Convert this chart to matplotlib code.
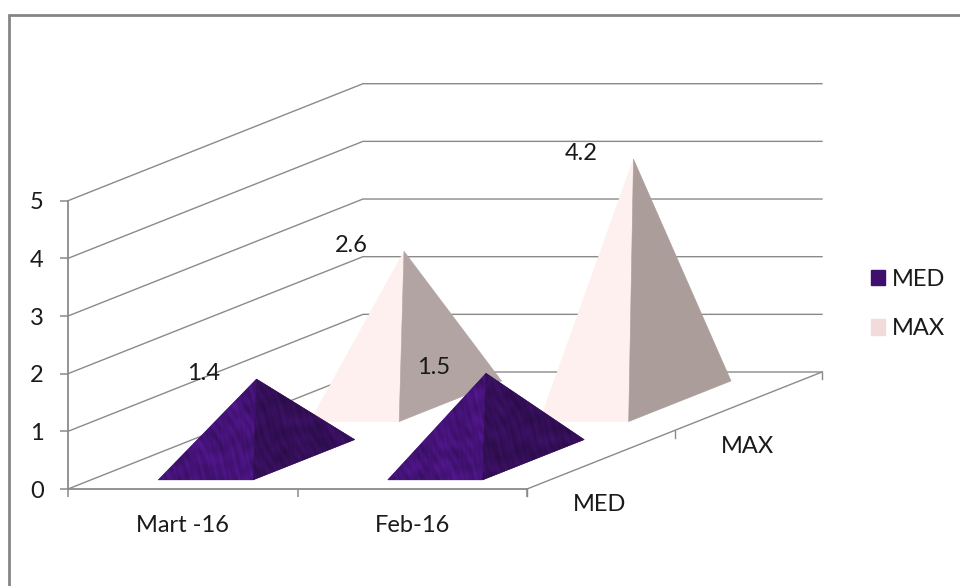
import numpy as np
import matplotlib
matplotlib.use("Agg")
import matplotlib.pyplot as plt
from matplotlib.lines import Line2D
from matplotlib.patches import Patch, Polygon

plt.rcParams['font.family'] = ['Lato', 'DejaVu Sans']

categories = ['Mart -16', 'Feb-16']
series_names = ['MED', 'MAX']
med_values = [1.4, 1.5]
max_values = [2.6, 4.2]
value_ticks = [0, 1, 2, 3, 4, 5]

GREY = '#8a8a8a'
TEXT = '#1a1a1a'
FONT = 17

fig = plt.figure(figsize=(9.6, 5.86), dpi=100, facecolor='white')

# outer chart frame runs off the right and bottom of the figure
fig.add_artist(Line2D([9 / 960, 9 / 960, 1], [0, 1 - 15 / 586, 1 - 15 / 586],
                      color='#858585', lw=2.0, solid_joinstyle='miter'))

# the axes rectangle is the front face of the 3d box
ax = fig.add_axes([68 / 960, (586 - 489) / 586, 459 / 960, 288.3 / 586])
ax.patch.set_alpha(0)

# one depth step, in category and value units
DEPTH_X = 147.5 / 229.5
DEPTH_Y = 58.5 / 57.66


def oblique(cat, depth, value):
    return cat + depth * DEPTH_X, value + depth * DEPTH_Y


def streaks(shape, seed):
    # mottled fabric shading, steep slanted waves at a few scales
    yy, xx = np.mgrid[0:shape[0], 0:shape[1]]
    out = np.zeros(shape)
    for k, (angle, freq, amp) in enumerate([(0.35, 0.91, 1.0), (0.55, 0.57, 0.9),
                                            (0.15, 1.43, 0.6), (1.1, 0.23, 0.8),
                                            (2.0, 0.37, 0.7), (0.75, 0.13, 0.9)]):
        u = xx * np.cos(angle) + yy * np.sin(angle)
        v = -xx * np.sin(angle) + yy * np.cos(angle)
        out += amp * np.sin(freq * u + 1.7 * np.sin(v * 0.09 + k + seed) + seed * (k + 1.3))
    return out / 3.0


def textured_face(pts, colour, seed):
    pts = np.array(pts)
    face = Polygon(pts, closed=True, transform=ax.transData, fc=colour, ec=colour,
                   lw=0.4, clip_on=False, zorder=3 + seed * 0.01)
    ax.add_patch(face)
    x0, x1 = pts[:, 0].min(), pts[:, 0].max()
    y0, y1 = pts[:, 1].min(), pts[:, 1].max()
    w = int((x1 - x0) * 229.5) + 2
    h = int((y1 - y0) * 57.66) + 2
    shade = streaks((h, w), seed)[..., None]
    rgb = np.clip(np.array(matplotlib.colors.to_rgb(colour)) * (1 + 0.16 * shade), 0, 1)
    im = ax.imshow(rgb, extent=(x0, x1, y0, y1), aspect='auto', origin='lower',
                   interpolation='bilinear', zorder=3 + seed * 0.01 + 0.001)
    im.set_clip_box(fig.bbox)
    im.set_clip_path(face)


def pyramid(cat, depth, value, half_w, half_d, shift, left_c, right_c, textured, order):
    # shift moves the base a little off the tip, the chart has slight perspective
    front_left = oblique(cat + shift - half_w, depth - half_d, 0)
    front_right = oblique(cat + shift + half_w, depth - half_d, 0)
    back_right = oblique(cat + shift + half_w, depth + half_d, 0)
    apex = oblique(cat, depth, value)
    if textured:
        textured_face([front_left, front_right, apex], left_c, order)
        textured_face([front_right, back_right, apex], right_c, order + 1)
    else:
        ax.add_patch(Polygon([front_left, front_right, apex], closed=True, fc=left_c,
                             ec=left_c, lw=0.4, clip_on=False, zorder=3 + order * 0.01))
        ax.add_patch(Polygon([front_right, back_right, apex], closed=True, fc=right_c,
                             ec=right_c, lw=0.4, clip_on=False, zorder=3 + order * 0.01))
    # value label sits up and to the left of the tip
    ax.annotate(f'{value}', xy=apex, xytext=(-52.5 * 0.72, 5.5 * 0.72), textcoords='offset points',
                ha='center', va='center', fontsize=FONT, color=TEXT, zorder=6,
                annotation_clip=False)


# side wall, back wall and floor lines
for v in value_ticks:
    p0 = oblique(0, 0, v)
    p1 = oblique(0, 2, v)
    p2 = oblique(2, 2, v)
    ax.plot([p0[0], p1[0], p2[0]], [p0[1], p1[1], p2[1]], color=GREY, lw=1.0,
            clip_on=False, zorder=1)

right_a = oblique(2, 0, 0)
right_b = oblique(2, 2, 0)
ax.plot([right_a[0], right_b[0]], [right_a[1], right_b[1]], color=GREY, lw=1.0,
        clip_on=False, zorder=1)

# depth axis ticks hang below the right floor edge
for d in range(len(series_names) + 1):
    tx, ty = oblique(2, d, 0)
    ax.plot([tx, tx], [ty, ty - 7 / 57.66], color=GREY, lw=1.0, clip_on=False, zorder=1)

# back row first so the front row covers it
pyramid(0.5, 1.5, max_values[0], 0.194, 0.347, 0.008, '#fdf0ee', '#b2a4a2', False, 0)
pyramid(1.5, 1.5, max_values[1], 0.194, 0.347, 0.008, '#fdf0ee', '#ab9d9a', False, 2)
pyramid(0.5, 0.5, med_values[0], 0.207, 0.344, 0.0, '#451378', '#340f58', True, 4)
pyramid(1.5, 0.5, med_values[1], 0.207, 0.344, 0.0, '#451378', '#340f58', True, 6)

# series names along the depth axis
for d, name in enumerate(series_names):
    lx, ly = oblique(2, d + 0.5, 0)
    ax.annotate(name, xy=(lx, ly), xytext=(-0.5, -45 * 0.72), textcoords='offset points',
                ha='center', va='center', fontsize=FONT, color=TEXT, annotation_clip=False)

ax.set_xlim(0, 2)
ax.set_ylim(0, 5)
ax.set_yticks(value_ticks)
ax.set_xticks([0, 1, 2])
ax.set_xticklabels([])
ax.set_xticks([0.5, 1.5], labels=categories, minor=True)
ax.tick_params(axis='x', which='major', length=5.5, width=1.1, color=GREY)
ax.tick_params(axis='x', which='minor', length=0, pad=19, labelsize=FONT, labelcolor=TEXT)
ax.tick_params(axis='y', length=5.5, width=1.1, color=GREY, pad=12, labelsize=FONT, labelcolor=TEXT)
for side in ['top', 'right']:
    ax.spines[side].set_visible(False)
for side in ['left', 'bottom']:
    ax.spines[side].set_color(GREY)
    ax.spines[side].set_linewidth(1.3)

handles = [Patch(fc='#3f0f6e', ec='#3f0f6e'), Patch(fc='#f2dcdb', ec='#f2dcdb')]
fig.legend(handles, series_names, loc='center left', bbox_to_anchor=(871 / 960, 1 - 304 / 586),
           frameon=False, fontsize=FONT, labelcolor=TEXT, handlelength=0.6, handleheight=0.65,
           handletextpad=0.3, labelspacing=1.2, borderpad=0, borderaxespad=0)

fig.savefig('out.png', dpi=100)
